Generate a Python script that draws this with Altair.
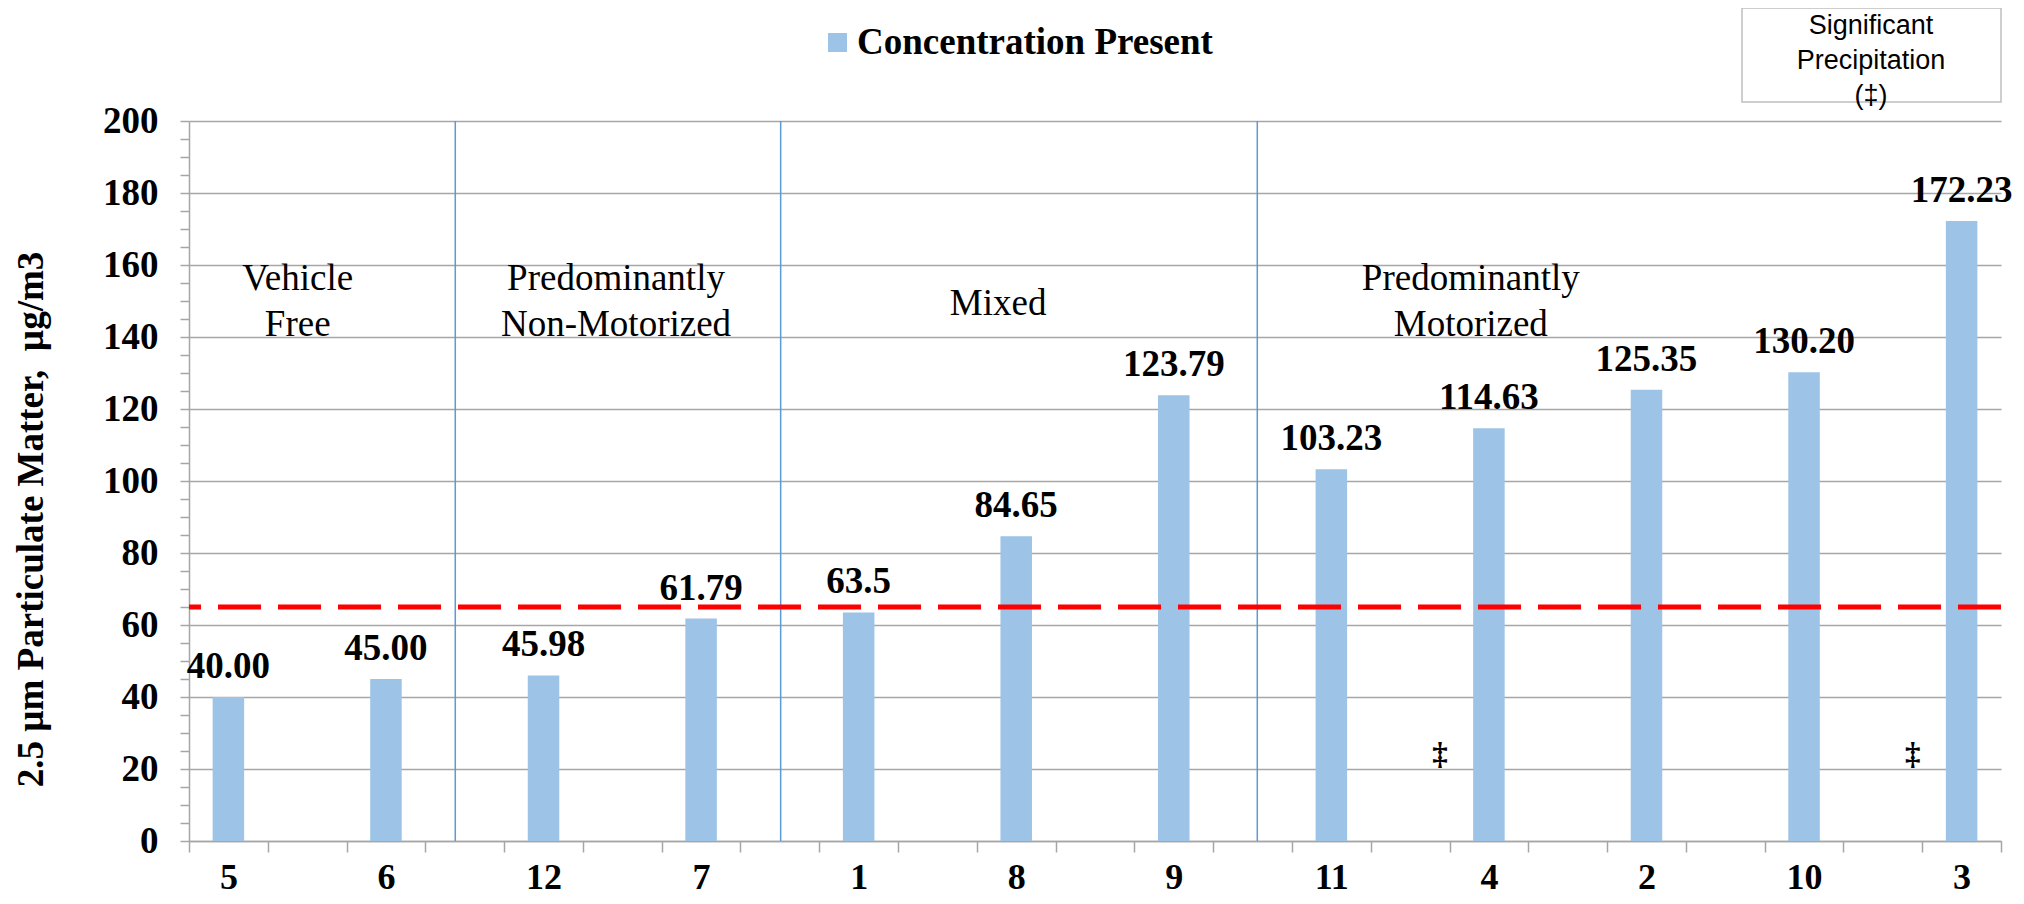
import json
import altair as alt
import pandas as pd

# ---- data ----
sites = ["5", "6", "12", "7", "1", "8", "9", "11", "4", "2", "10", "3"]
pm25 = [40.00, 45.00, 45.98, 61.79, 63.5, 84.65, 123.79, 103.23, 114.63, 125.35, 130.20, 172.23]
value_labels = ["40.00", "45.00", "45.98", "61.79", "63.5", "84.65", "123.79",
                "103.23", "114.63", "125.35", "130.20", "172.23"]
precipitation = [False, False, False, False, False, False, False, False, True, False, False, True]
standard_level = [65]
series_name = "Concentration Present"

group_names = ["Vehicle\nFree", "Predominantly\nNon-Motorized", "Mixed", "Predominantly\nMotorized"]
group_center_slot = [1.38, 5.42, 10.27, 16.27]
group_label_y = [153, 153, 146, 153]
divider_slot = [3.38, 7.51, 13.56]

# ---- layout ----
W, H = 1812, 720
n_slots = 2 * len(sites) - 1
slot_px = W / n_slots
SERIF = "Liberation Serif"

bars = pd.DataFrame({
    "idx": list(range(len(sites))),
    "site": sites,
    "pm": pm25,
    "lab": value_labels,
    "precip": precipitation,
    "series": [series_name] * len(sites),
})
groups = pd.DataFrame({"name": group_names, "pos": group_center_slot, "yv": group_label_y})
divs = pd.DataFrame({"pos": divider_slot})
std = pd.DataFrame({"v": standard_level})
box = pd.DataFrame({"t": ["Significant\nPrecipitation\n(\u2021)"]})

x_scale = alt.Scale(domain=[0, n_slots], nice=False, zero=False)
y_scale = alt.Scale(domain=[0, 200], nice=False)

label_expr = ("datum.value % 2 === 0 && datum.value < " + str(n_slots) + " ? "
              + json.dumps(sites) + "[datum.value / 2] : ''")

x_axis = alt.Axis(
    values=list(range(0, n_slots + 1)), labelExpr=label_expr, labelOffset=slot_px / 2,
    grid=False, ticks=True, tickSize=11, tickColor="#a6a6a6", tickWidth=1.5,
    domainColor="#a6a6a6", domainWidth=1.5, labelFlush=False, labelOverlap=False,
    labelBound=False, labelFont=SERIF, labelFontWeight="bold", labelFontSize=36,
    labelColor="black", labelPadding=8, title=None,
)
y_axis = alt.Axis(
    values=list(range(0, 201, 5)),
    labelExpr="datum.value % 20 === 0 ? datum.label : ''",
    grid=True, gridColor="#a6a6a6", gridWidth=1.5,
    gridOpacity={"condition": {"test": "datum.value % 20 === 0", "value": 1}, "value": 0},
    tickSize=9, tickColor="#a6a6a6", tickWidth=1.5, domainColor="#a6a6a6", domainWidth=1.5,
    labelFont=SERIF, labelFontWeight="bold", labelFontSize=37, labelColor="black",
    labelPadding=22, labelOverlap=False,
    title="2.5 \u00b5m Particulate Matter,\u00a0 \u00b5g/m3", titleFont=SERIF, titleFontWeight="bold",
    titleFontSize=37, titleColor="black", titleAngle=270, titleAlign="center",
    titleBaseline="middle", titleX=-158, titleY=398,
)

bar_layer = alt.Chart(bars).transform_calculate(
    x0="datum.idx * 2 + 0.3", x1="datum.idx * 2 + 0.7"
).mark_bar().encode(
    x=alt.X("x0:Q", scale=x_scale, axis=x_axis),
    x2="x1:Q",
    y=alt.Y("pm:Q", scale=y_scale, axis=y_axis),
    y2=alt.datum(0),
    color=alt.Color("series:N", scale=alt.Scale(domain=[series_name], range=["#9DC3E6"]),
                    legend=alt.Legend(orient="none", legendX=630, legendY=-97, title=None,
                                      symbolType="square", symbolSize=360, symbolStrokeWidth=0,
                                      labelFont=SERIF, labelFontWeight="bold", labelFontSize=37,
                                      labelColor="black", labelLimit=800, labelOffset=1,
                                      padding=0, offset=0)),
)

label_layer = alt.Chart(bars).transform_calculate(
    xc="datum.idx * 2 + 0.5"
).mark_text(font=SERIF, fontWeight="bold", fontSize=37, color="black",
            baseline="alphabetic", align="center", dy=-19).encode(
    x=alt.X("xc:Q", scale=x_scale, axis=x_axis),
    y=alt.Y("pm:Q", scale=y_scale, axis=y_axis),
    text="lab:N",
)

marker_layer = alt.Chart(bars).transform_filter("datum.precip").transform_calculate(
    xm="datum.idx * 2 + 0.5 - 0.62", ym="21.5"
).mark_text(font=SERIF, fontWeight="bold", fontSize=31, color="black",
            baseline="alphabetic", align="center").encode(
    x=alt.X("xm:Q", scale=x_scale, axis=x_axis),
    y=alt.Y("ym:Q", scale=y_scale, axis=y_axis),
    text=alt.value("\u2021"),
)

div_layer = alt.Chart(divs).mark_rule(color="#5B9BD5", strokeWidth=1.5).encode(
    x=alt.X("pos:Q", scale=x_scale, axis=x_axis),
)

std_layer = alt.Chart(std).mark_rule(color="#FF0000", strokeWidth=5, strokeDash=[43, 17]).encode(
    y=alt.Y("v:Q", scale=y_scale, axis=y_axis),
)

group_layer = alt.Chart(groups).mark_text(font=SERIF, fontSize=37, color="black",
                                          lineBreak="\n", lineHeight=46, align="center",
                                          baseline="alphabetic").encode(
    x=alt.X("pos:Q", scale=x_scale, axis=x_axis),
    y=alt.Y("yv:Q", scale=y_scale, axis=y_axis),
    text="name:N",
)

box_rect = alt.Chart(box).mark_rect(fill="white", stroke="#bfbfbf", strokeWidth=1.5).encode(
    x=alt.value(W - 259), x2=alt.value(W), y=alt.value(-113), y2=alt.value(-19),
)
box_text = alt.Chart(box).mark_text(font="Liberation Sans", fontSize=27, color="black",
                                    lineBreak="\n", lineHeight=35, align="center",
                                    baseline="alphabetic").encode(
    x=alt.value(W - 130), y=alt.value(-87), text="t:N",
)

chart = alt.layer(
    bar_layer, div_layer, std_layer, label_layer, marker_layer, group_layer, box_rect, box_text
).properties(
    width=W, height=H,
    padding={"left": 181, "top": 113, "right": 15, "bottom": 55},
    autosize=alt.AutoSizeParams(type="none"),
    background="white",
).configure_view(stroke=None)

chart.save("out.html", embed_options={"renderer": "svg", "actions": False})
